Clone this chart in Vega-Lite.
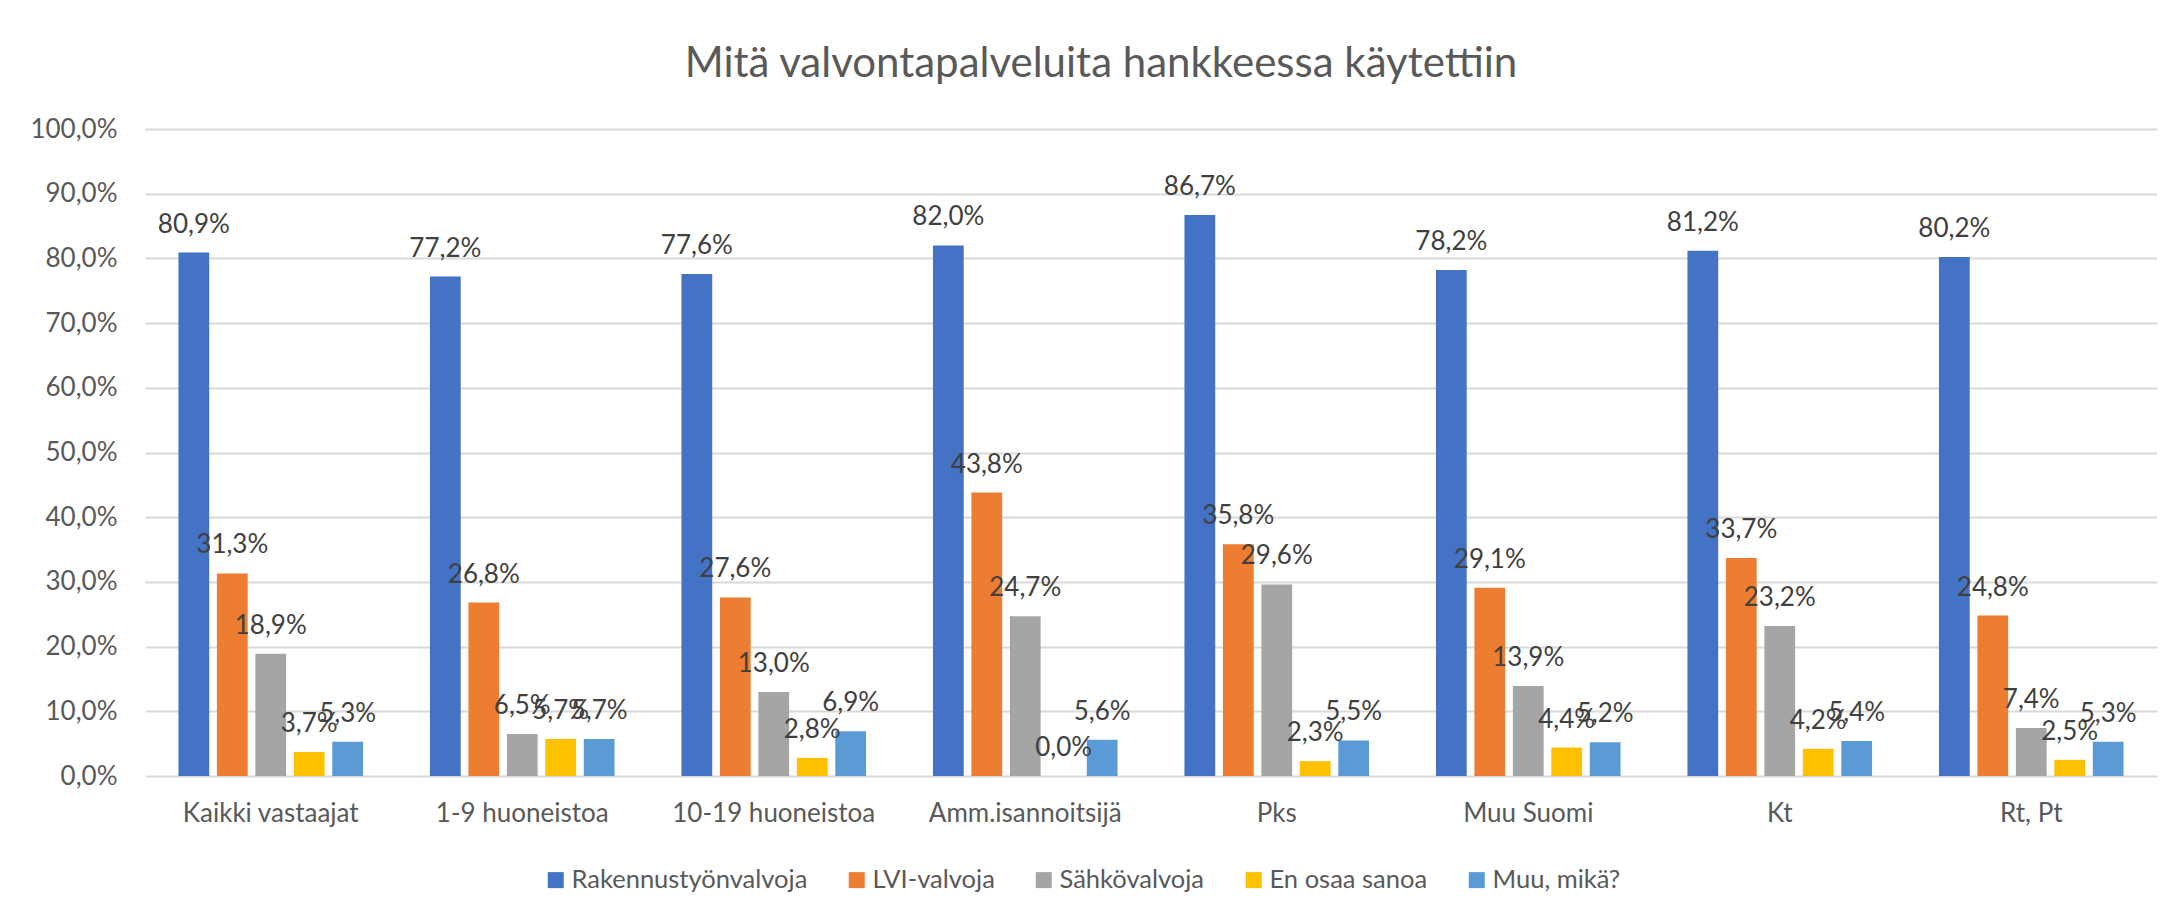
{
  "$schema": "https://vega.github.io/schema/vega-lite/v6.json",
  "width": 2012,
  "height": 647,
  "autosize": {"type": "none"},
  "padding": {"left": 145, "top": 129, "right": 15, "bottom": 143},
  "background": "white",
  "title": {
    "text": "Mitä valvontapalveluita hankkeessa käytettiin",
    "fontSize": 42,
    "font": "Lato",
    "fontWeight": "normal",
    "color": "#595959",
    "anchor": "middle",
    "frame": "group",
    "dx": -50,
    "baseline": "bottom",
    "offset": -12
  },
  "config": {
    "locale": {"number": {"decimal": ",", "thousands": " ", "grouping": [3], "currency": ["", " €"]}},
    "view": {"stroke": null},
    "font": "Lato"
  },
  "data": {
    "values": [
      {"group": "Kaikki vastaajat", "series": "Rakennustyönvalvoja", "value": 0.809},
      {"group": "Kaikki vastaajat", "series": "LVI-valvoja", "value": 0.313},
      {"group": "Kaikki vastaajat", "series": "Sähkövalvoja", "value": 0.189},
      {"group": "Kaikki vastaajat", "series": "En osaa sanoa", "value": 0.037},
      {"group": "Kaikki vastaajat", "series": "Muu, mikä?", "value": 0.053},
      {"group": "1-9 huoneistoa", "series": "Rakennustyönvalvoja", "value": 0.772},
      {"group": "1-9 huoneistoa", "series": "LVI-valvoja", "value": 0.268},
      {"group": "1-9 huoneistoa", "series": "Sähkövalvoja", "value": 0.065},
      {"group": "1-9 huoneistoa", "series": "En osaa sanoa", "value": 0.057},
      {"group": "1-9 huoneistoa", "series": "Muu, mikä?", "value": 0.057},
      {"group": "10-19 huoneistoa", "series": "Rakennustyönvalvoja", "value": 0.776},
      {"group": "10-19 huoneistoa", "series": "LVI-valvoja", "value": 0.276},
      {"group": "10-19 huoneistoa", "series": "Sähkövalvoja", "value": 0.130},
      {"group": "10-19 huoneistoa", "series": "En osaa sanoa", "value": 0.028},
      {"group": "10-19 huoneistoa", "series": "Muu, mikä?", "value": 0.069},
      {"group": "Amm.isannoitsijä", "series": "Rakennustyönvalvoja", "value": 0.820},
      {"group": "Amm.isannoitsijä", "series": "LVI-valvoja", "value": 0.438},
      {"group": "Amm.isannoitsijä", "series": "Sähkövalvoja", "value": 0.247},
      {"group": "Amm.isannoitsijä", "series": "En osaa sanoa", "value": 0.0},
      {"group": "Amm.isannoitsijä", "series": "Muu, mikä?", "value": 0.056},
      {"group": "Pks", "series": "Rakennustyönvalvoja", "value": 0.867},
      {"group": "Pks", "series": "LVI-valvoja", "value": 0.358},
      {"group": "Pks", "series": "Sähkövalvoja", "value": 0.296},
      {"group": "Pks", "series": "En osaa sanoa", "value": 0.023},
      {"group": "Pks", "series": "Muu, mikä?", "value": 0.055},
      {"group": "Muu Suomi", "series": "Rakennustyönvalvoja", "value": 0.782},
      {"group": "Muu Suomi", "series": "LVI-valvoja", "value": 0.291},
      {"group": "Muu Suomi", "series": "Sähkövalvoja", "value": 0.139},
      {"group": "Muu Suomi", "series": "En osaa sanoa", "value": 0.044},
      {"group": "Muu Suomi", "series": "Muu, mikä?", "value": 0.052},
      {"group": "Kt", "series": "Rakennustyönvalvoja", "value": 0.812},
      {"group": "Kt", "series": "LVI-valvoja", "value": 0.337},
      {"group": "Kt", "series": "Sähkövalvoja", "value": 0.232},
      {"group": "Kt", "series": "En osaa sanoa", "value": 0.042},
      {"group": "Kt", "series": "Muu, mikä?", "value": 0.054},
      {"group": "Rt, Pt", "series": "Rakennustyönvalvoja", "value": 0.802},
      {"group": "Rt, Pt", "series": "LVI-valvoja", "value": 0.248},
      {"group": "Rt, Pt", "series": "Sähkövalvoja", "value": 0.074},
      {"group": "Rt, Pt", "series": "En osaa sanoa", "value": 0.025},
      {"group": "Rt, Pt", "series": "Muu, mikä?", "value": 0.053}
    ]
  },
  "encoding": {
    "x": {
      "field": "group",
      "type": "nominal",
      "sort": null,
      "scale": {"paddingInner": 0.266, "paddingOuter": 0.133},
      "axis": {
        "title": null,
        "labelAngle": 0,
        "domain": false,
        "ticks": false,
        "labelPadding": 24,
        "labelFontSize": 26,
        "labelLimit": 400,
        "labelColor": "#595959"
      }
    },
    "xOffset": {
      "field": "series",
      "type": "nominal",
      "sort": ["Rakennustyönvalvoja", "LVI-valvoja", "Sähkövalvoja", "En osaa sanoa", "Muu, mikä?"],
      "scale": {"paddingInner": 0.2, "paddingOuter": 0}
    },
    "y": {
      "field": "value",
      "type": "quantitative",
      "scale": {"domain": [0, 1], "nice": false},
      "axis": {
        "title": null,
        "format": ".1%",
        "values": [0, 0.1, 0.2, 0.3, 0.4, 0.5, 0.6, 0.7, 0.8, 0.9, 1.0],
        "domain": false,
        "ticks": false,
        "labelPadding": 28,
        "labelFontSize": 26,
        "labelColor": "#595959",
        "gridColor": "#d9d9d9",
        "gridWidth": 2
      }
    }
  },
  "layer": [
    {
      "mark": {"type": "bar"},
      "encoding": {
        "color": {
          "field": "series",
          "type": "nominal",
          "scale": {
            "domain": ["Rakennustyönvalvoja", "LVI-valvoja", "Sähkövalvoja", "En osaa sanoa", "Muu, mikä?"],
            "range": ["#4472C4", "#ED7D31", "#A5A5A5", "#FFC000", "#5B9BD5"]
          },
          "legend": {
            "title": null,
            "orient": "none",
            "legendX": 398,
            "legendY": 738,
            "direction": "horizontal",
            "labelFontSize": 25.5,
            "labelLimit": 400,
            "labelColor": "#595959",
            "symbolType": "square",
            "symbolSize": 256,
            "symbolStrokeWidth": 0,
            "columnPadding": 36,
            "labelOffset": 3
          }
        }
      }
    },
    {
      "mark": {"type": "text", "align": "center", "baseline": "alphabetic", "dy": -20, "fontSize": 26, "color": "#404040"},
      "encoding": {
        "text": {"field": "value", "type": "quantitative", "format": ".1%"}
      }
    }
  ]
}
